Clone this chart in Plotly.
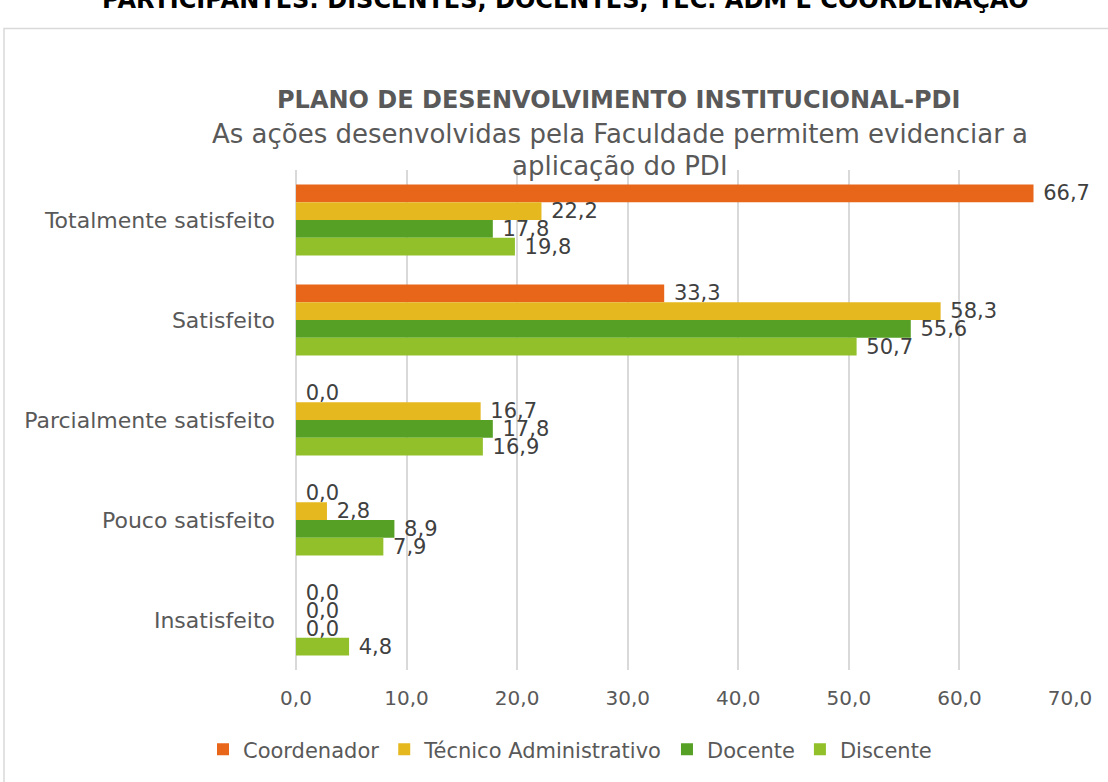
import plotly.graph_objects as go

categorias = ["Totalmente satisfeito", "Satisfeito", "Parcialmente satisfeito",
              "Pouco satisfeito", "Insatisfeito"]
coordenador = [66.7, 33.3, 0.0, 0.0, 0.0]
tecnico_adm = [22.2, 58.3, 16.7, 2.8, 0.0]
docente = [17.8, 55.6, 17.8, 8.9, 0.0]
discente = [19.8, 50.7, 16.9, 7.9, 4.8]
x_ticks = [0, 10, 20, 30, 40, 50, 60, 70]

series = [
    ("Coordenador", coordenador, "#E8661A"),
    ("Técnico Administrativo", tecnico_adm, "#E5B820"),
    ("Docente", docente, "#55A025"),
    ("Discente", discente, "#91C02A"),
]

FONT = "DejaVu Sans, Verdana, sans-serif"
W, H = 1108, 782
L, R, T, B = 296, 38, 170, 110
PW, PH = W - L - R, H - T - B


def px_x(p):
    return (p - L) / PW


def px_y(p):
    return (H - B - p) / PH


fig = go.Figure()
for nome, valores, cor in series:
    fig.add_trace(go.Bar(
        y=categorias, x=valores, name=nome, orientation="h",
        marker=dict(color=cor, line=dict(width=0)),
        texttemplate="\u00a0%{x:.1f}", textposition="outside",
        constraintext="none",
        textfont=dict(family=FONT, size=21, color="#404040"),
        cliponaxis=False,
    ))

fig.update_layout(
    width=W, height=H,
    margin=dict(l=L, r=R, t=T, b=B),
    barmode="group", bargap=0.29, bargroupgap=0,
    separators=",.",
    paper_bgcolor="white", plot_bgcolor="white",
    font=dict(family=FONT, size=20, color="#595959"),
    xaxis=dict(range=[0, 70], tickvals=x_ticks, tickformat=".1f",
               showgrid=True, gridcolor="#d9d9d9", gridwidth=1.5,
               zeroline=True, zerolinecolor="#d9d9d9", zerolinewidth=1.5,
               ticklabelstandoff=14,
               tickfont=dict(size=20, color="#595959")),
    yaxis=dict(autorange="reversed", showgrid=False, ticklabelstandoff=20,
               tickfont=dict(size=22, color="#595959")),
    legend=dict(orientation="h", x=px_x(570), y=px_y(752), xanchor="center",
                yanchor="middle", font=dict(size=21, color="#595959"),
                itemwidth=30, traceorder="normal"),
    showlegend=True,
)

fig.add_annotation(text="<b>PARTICIPANTES: DISCENTES, DOCENTES, TEC. ADM E COORDENAÇÃO</b>",
                   xref="paper", yref="paper", x=px_x(565), y=px_y(-1),
                   showarrow=False, font=dict(size=24, color="#000000"),
                   xanchor="center", yanchor="middle")
fig.add_annotation(text="<b>PLANO DE DESENVOLVIMENTO INSTITUCIONAL-PDI</b>",
                   xref="paper", yref="paper", x=px_x(618), y=px_y(100),
                   showarrow=False, font=dict(size=24, color="#595959"),
                   xanchor="center", yanchor="middle")
fig.add_annotation(text="As ações desenvolvidas pela Faculdade permitem evidenciar a",
                   xref="paper", yref="paper", x=px_x(620), y=px_y(134),
                   showarrow=False, font=dict(size=26, color="#595959"),
                   xanchor="center", yanchor="middle")
fig.add_annotation(text="aplicação do PDI",
                   xref="paper", yref="paper", x=px_x(620), y=px_y(166),
                   showarrow=False, font=dict(size=26, color="#595959"),
                   xanchor="center", yanchor="middle")

# moldura do gráfico
fig.add_shape(type="rect", xref="paper", yref="paper",
              x0=px_x(4), x1=px_x(1120), y0=px_y(795), y1=px_y(28),
              line=dict(color="#d9d9d9", width=1.5), layer="below")

fig.write_html("out.html", config={"displayModeBar": False},
               post_script="document.body.style.margin='0';")
